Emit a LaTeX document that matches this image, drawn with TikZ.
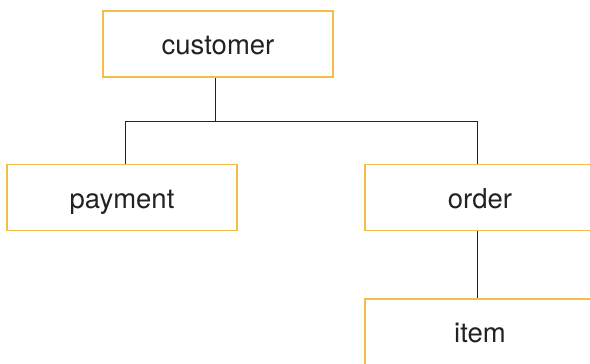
\documentclass[tikz,border=0pt]{standalone}
\usepackage{fontspec}
\setmainfont{TeX Gyre Heros}
\definecolor{boxorange}{HTML}{F5BC48}
\definecolor{linkgray}{HTML}{222222}
\begin{document}
\begin{tikzpicture}[x=1pt,y=-1pt,
  entity/.style={draw=boxorange, line width=1.6pt, fill=white,
    minimum width=230pt, minimum height=66pt, inner sep=0pt,
    text height=21pt, text depth=0pt,
    font=\fontsize{27.5}{32}\selectfont, text=linkgray},
  link/.style={draw=linkgray, line width=0.8pt}]
  \useasboundingbox (0,0) rectangle (590,364);
  \clip (0,0) rectangle (590,364);
  % entities
  \node[entity] (customer) at (218,44) {customer};
  \node[entity] (payment)  at (122,197.5) {payment};
  \node[entity] (order)    at (480,197.5) {order};
  \node[entity] (item)     at (480,332) {item};
  % tree connectors
  \coordinate (bus) at (215,121);
  \draw[link] ([xshift=-3pt]customer.south) -- (bus);
  \draw[link] ([xshift=3pt]payment.north) |- (bus);
  \draw[link] ([xshift=-3pt]order.north) |- (bus);
  \draw[link] ([xshift=-3pt]order.south) -- ([xshift=-3pt]item.north);
\end{tikzpicture}
\end{document}
